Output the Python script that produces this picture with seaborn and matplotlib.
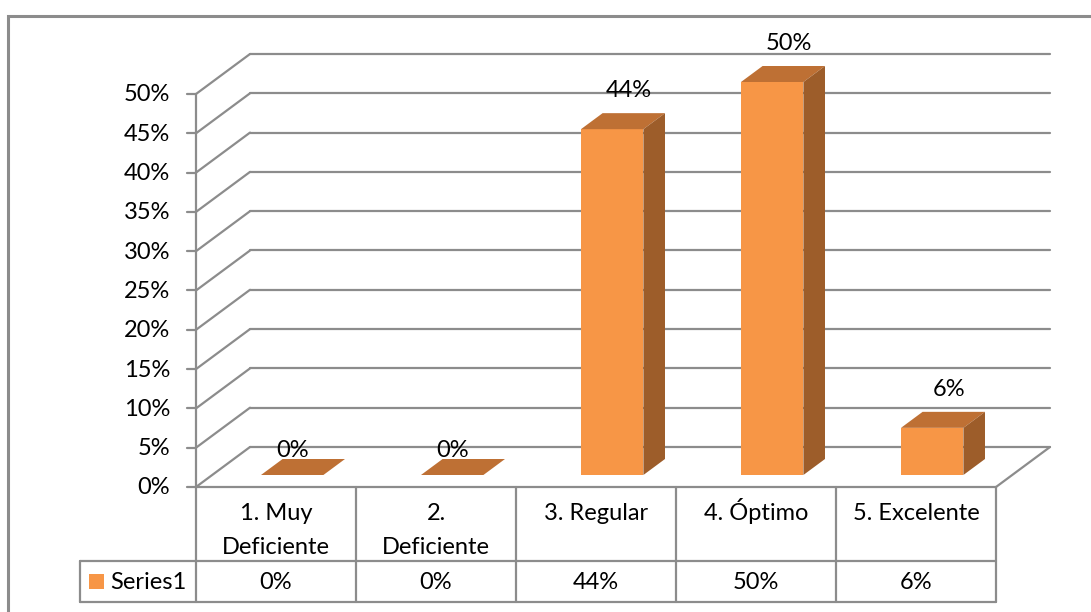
import matplotlib
matplotlib.use("Agg")
import matplotlib.pyplot as plt
import matplotlib.transforms as mtransforms
from matplotlib.patches import Polygon, Rectangle
from matplotlib.lines import Line2D
import seaborn as sns
import pandas as pd

# ---- data ----
categories = ["1. Muy\nDeficiente", "2.\nDeficiente", "3. Regular", "4. Óptimo", "5. Excelente"]
values = [0.00, 0.00, 0.44, 0.50, 0.06]
value_labels = ["0%", "0%", "44%", "50%", "6%"]
series_name = "Series1"
y_ticks = [0.00, 0.05, 0.10, 0.15, 0.20, 0.25, 0.30, 0.35, 0.40, 0.45, 0.50]
y_tick_labels = ["0%", "5%", "10%", "15%", "20%", "25%", "30%", "35%", "40%", "45%", "50%"]

# ---- style ----
FRONT = "#F79646"
TOP = "#BE7034"
SIDE = "#9D5D2A"
GRID = "#8C8C8C"
TEXT = "#000000"
FS = 17

sns.set_theme(style="white")
plt.rcParams["font.family"] = ["Lato", "DejaVu Sans"]

W, H, DPI = 1091, 612, 100
fig = plt.figure(figsize=(W / DPI, H / DPI), dpi=DPI)
fig.patch.set_facecolor("white")

# front plane of the 3-D box, in figure pixels
L, R, B, T = 196, 996, 487, 94
ax = fig.add_axes([L / W, 1 - B / H, (R - L) / W, (B - T) / H])
ax.set_facecolor("none")

n = len(categories)
ymax = 0.5
ppx = (R - L) / n          # pixels per category unit
ppy = (B - T) / ymax       # pixels per value unit
px = lambda p: p / ppx     # pixel distance -> x data
py = lambda p: p / ppy     # pixel distance -> y data

# depth of the walls and of the bars
DX, DY = px(54), py(40)
BAR_W = 0.39
BAR_OFF = 0.30             # bars sit this far back in the box
BAR_DEPTH = 0.40

df = pd.DataFrame({"category": categories, "value": values})
sns.barplot(data=df, x="category", y="value", width=BAR_W, color=FRONT,
            saturation=1, linewidth=0, ax=ax, zorder=4)

ax.set_xlim(-0.5, n - 0.5)
ax.set_ylim(0, ymax)
ax.set_xlabel("")
ax.set_ylabel("")
ax.set_xticks([])
ax.set_yticks([])
for s in ax.spines.values():
    s.set_visible(False)

lw_grid = 1.6
x0w, x1w = -0.5, n - 0.5

# back wall gridlines and left wall diagonals
for yv in y_ticks:
    ax.add_line(Line2D([x0w + DX, x1w + DX], [yv + DY, yv + DY], color=GRID,
                       lw=lw_grid, zorder=1, clip_on=False))
    ax.add_line(Line2D([x0w, x0w + DX], [yv, yv + DY], color=GRID,
                       lw=lw_grid, zorder=1, clip_on=False))
    # tick mark on the value axis
    ax.add_line(Line2D([x0w - px(9), x0w], [yv, yv], color=GRID,
                       lw=lw_grid, zorder=2, clip_on=False))

# value axis line
ax.add_line(Line2D([x0w, x0w], [0, ymax], color=GRID, lw=lw_grid, zorder=2, clip_on=False))
# floor: right edge
ax.add_line(Line2D([x1w, x1w + DX], [0, DY], color=GRID, lw=lw_grid, zorder=1, clip_on=False))

for yv, lab in zip(y_ticks, y_tick_labels):
    ax.text(x0w - px(26), yv - py(1), lab, ha="right", va="center", fontsize=FS,
            color=TEXT, clip_on=False)

# ---- bars: shift the fronts back and add top and side faces ----
ox, oy = BAR_OFF * DX, BAR_OFF * DY
bx, by = BAR_DEPTH * DX, BAR_DEPTH * DY
shift = mtransforms.Affine2D().translate(ox, oy) + ax.transData
for patch, lab in zip(ax.patches, value_labels):
    patch.set_transform(shift)
    patch.set_clip_on(False)
    xa = patch.get_x()
    xb = xa + patch.get_width()
    h = patch.get_height()
    top = Polygon([(xa, h), (xb, h), (xb + bx, h + by), (xa + bx, h + by)],
                  closed=True, facecolor=TOP, edgecolor="none", transform=shift,
                  zorder=4, clip_on=False)
    ax.add_patch(top)
    if h > 0:
        side = Polygon([(xb, 0), (xb + bx, by), (xb + bx, h + by), (xb, h)],
                       closed=True, facecolor=SIDE, edgecolor="none",
                       transform=shift, zorder=4, clip_on=False)
        ax.add_patch(side)
    # value label above the bar (flat bars keep it centred on the front)
    xc = (xa + xb) / 2 + (px(17) if h > 0 else 0)
    gap = py(16) if h > 0 else py(2)
    ax.text(xc + ox, h + by + oy + gap, lab, ha="center", va="baseline",
            fontsize=FS, color=TEXT, zorder=6, clip_on=False)

# ---- data table below the plot ----
row1 = -py(561 - B)
row2 = -py(602 - B)
xl = x0w - px(196 - 80)
tbl = dict(color=GRID, lw=lw_grid, zorder=2, clip_on=False)
ax.add_line(Line2D([x0w, x1w], [0, 0], **tbl))
ax.add_line(Line2D([xl, x1w], [row1, row1], **tbl))
ax.add_line(Line2D([xl, x1w], [row2, row2], **tbl))
ax.add_line(Line2D([xl, xl], [row1, row2], **tbl))
for k in range(n + 1):
    xv = x0w + k
    ax.add_line(Line2D([xv, xv], [0, row2], **tbl))

ymid = (row1 + row2) / 2
for k, (cat, lab) in enumerate(zip(categories, value_labels)):
    for i, line in enumerate(cat.split("\n")):
        ax.text(k, -py(520 - B + 34 * i), line, ha="center", va="baseline",
                fontsize=FS, color=TEXT, clip_on=False)
    ax.text(k, ymid - py(1), lab, ha="center", va="center", fontsize=FS,
            color=TEXT, clip_on=False)

# legend key and series name
ax.add_patch(Rectangle((x0w - px(196 - 89), ymid - py(7.5)), px(15), py(15),
                       facecolor=FRONT, edgecolor="none", clip_on=False, zorder=3))
ax.text(x0w - px(196 - 110), ymid - py(1), series_name, ha="left", va="center",
        fontsize=FS, color=TEXT, clip_on=False)

# chart area border
fig.add_artist(Rectangle((8 / W, -0.2), 2.0, 1 - 16 / H + 0.2, transform=fig.transFigure,
                         fill=False, edgecolor=GRID, lw=2.2))

fig.savefig("out.png", dpi=DPI, facecolor="white")
